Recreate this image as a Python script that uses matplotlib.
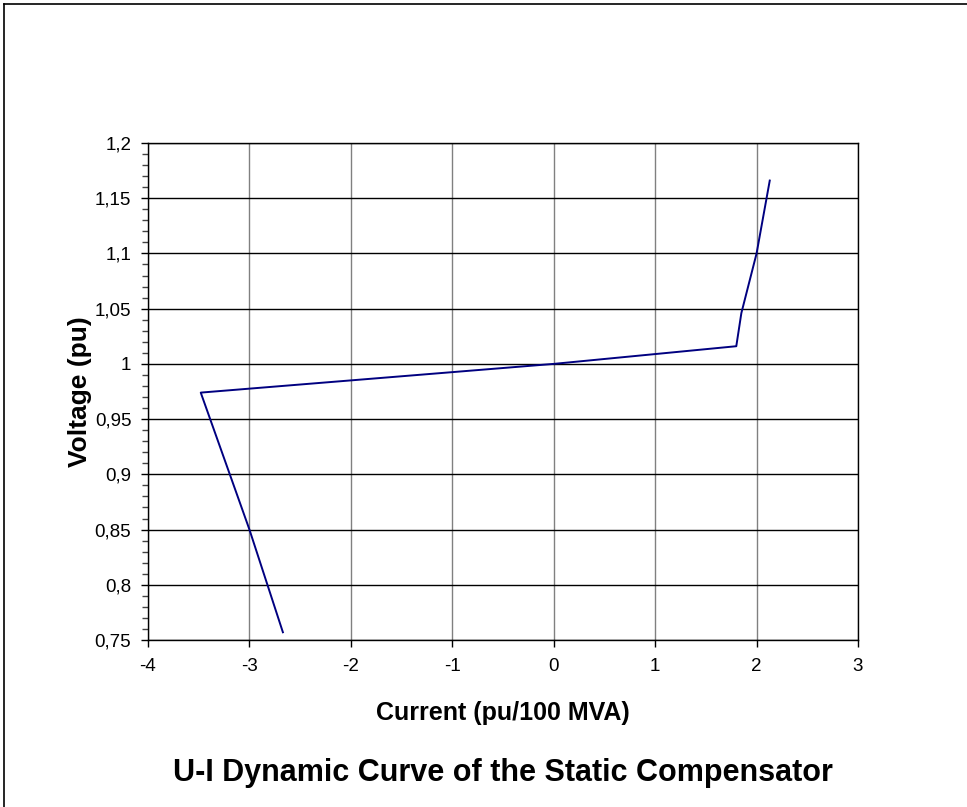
import matplotlib
matplotlib.use("Agg")
import matplotlib.pyplot as plt
from matplotlib.ticker import MultipleLocator, FuncFormatter
from matplotlib.lines import Line2D

plt.rcParams['font.family'] = ['Liberation Sans', 'DejaVu Sans']

current = [-2.67, -3.0, -3.48, 0.0, 1.80, 1.85, 2.0, 2.13]
voltage = [0.757, 0.85, 0.974, 1.0, 1.016, 1.046, 1.1, 1.166]

title = "U-I Dynamic Curve of the Static Compensator"
xlabel = "Current (pu/100 MVA)"
ylabel = "Voltage (pu)"

W, H = 967, 807
fig = plt.figure(figsize=(W / 100, H / 100), dpi=100)
ax = fig.add_axes([148 / W, 1 - 640 / H, (858 - 148) / W, (640 - 143) / H])

ax.plot(current, voltage, color='#000080', lw=1.4, zorder=3)

ax.set_xlim(-4, 3)
ax.set_ylim(0.75, 1.2)
ax.xaxis.set_major_locator(MultipleLocator(1))
ax.yaxis.set_major_locator(MultipleLocator(0.05))
ax.yaxis.set_minor_locator(MultipleLocator(0.01))

def yfmt(v, pos):
    s = f"{v:.2f}".rstrip('0').rstrip('.')
    return s.replace('.', ',')

ax.yaxis.set_major_formatter(FuncFormatter(yfmt))
ax.xaxis.set_major_formatter(FuncFormatter(lambda v, p: f"{int(round(v))}"))

ax.grid(True, which='major', axis='y', color='black', lw=1.0)
ax.grid(True, which='major', axis='x', color='#808080', lw=1.0)
ax.set_axisbelow(True)

for s in ax.spines.values():
    s.set_color('black')
    s.set_linewidth(1.0)

ax.tick_params(axis='both', which='major', direction='out', length=5, width=1,
               labelsize=13.5)
ax.tick_params(axis='x', which='major', pad=8)
ax.tick_params(axis='y', which='major', pad=7)
ax.tick_params(axis='x', which='minor', bottom=False)
ax.tick_params(axis='y', which='minor', direction='out', length=4, width=1, color='#444444')

ax.set_xlabel(xlabel, fontsize=18, fontweight='bold', labelpad=19)
ax.set_ylabel(ylabel, fontsize=19, fontweight='bold', labelpad=2)

fig.text(0.5 * (148 + 858) / W, 1 - 773 / H, title, ha='center', va='center',
         fontsize=22, fontweight='bold')

# outer border (top and left visible)
fig.add_artist(Line2D([3.5 / W, 3.5 / W], [0, 1 - 3.5 / H], transform=fig.transFigure,
                      color='black', lw=1.2))
fig.add_artist(Line2D([3.5 / W, 1], [1 - 3.5 / H, 1 - 3.5 / H], transform=fig.transFigure,
                      color='black', lw=1.2))

fig.savefig("out.png", dpi=100, facecolor='white')
